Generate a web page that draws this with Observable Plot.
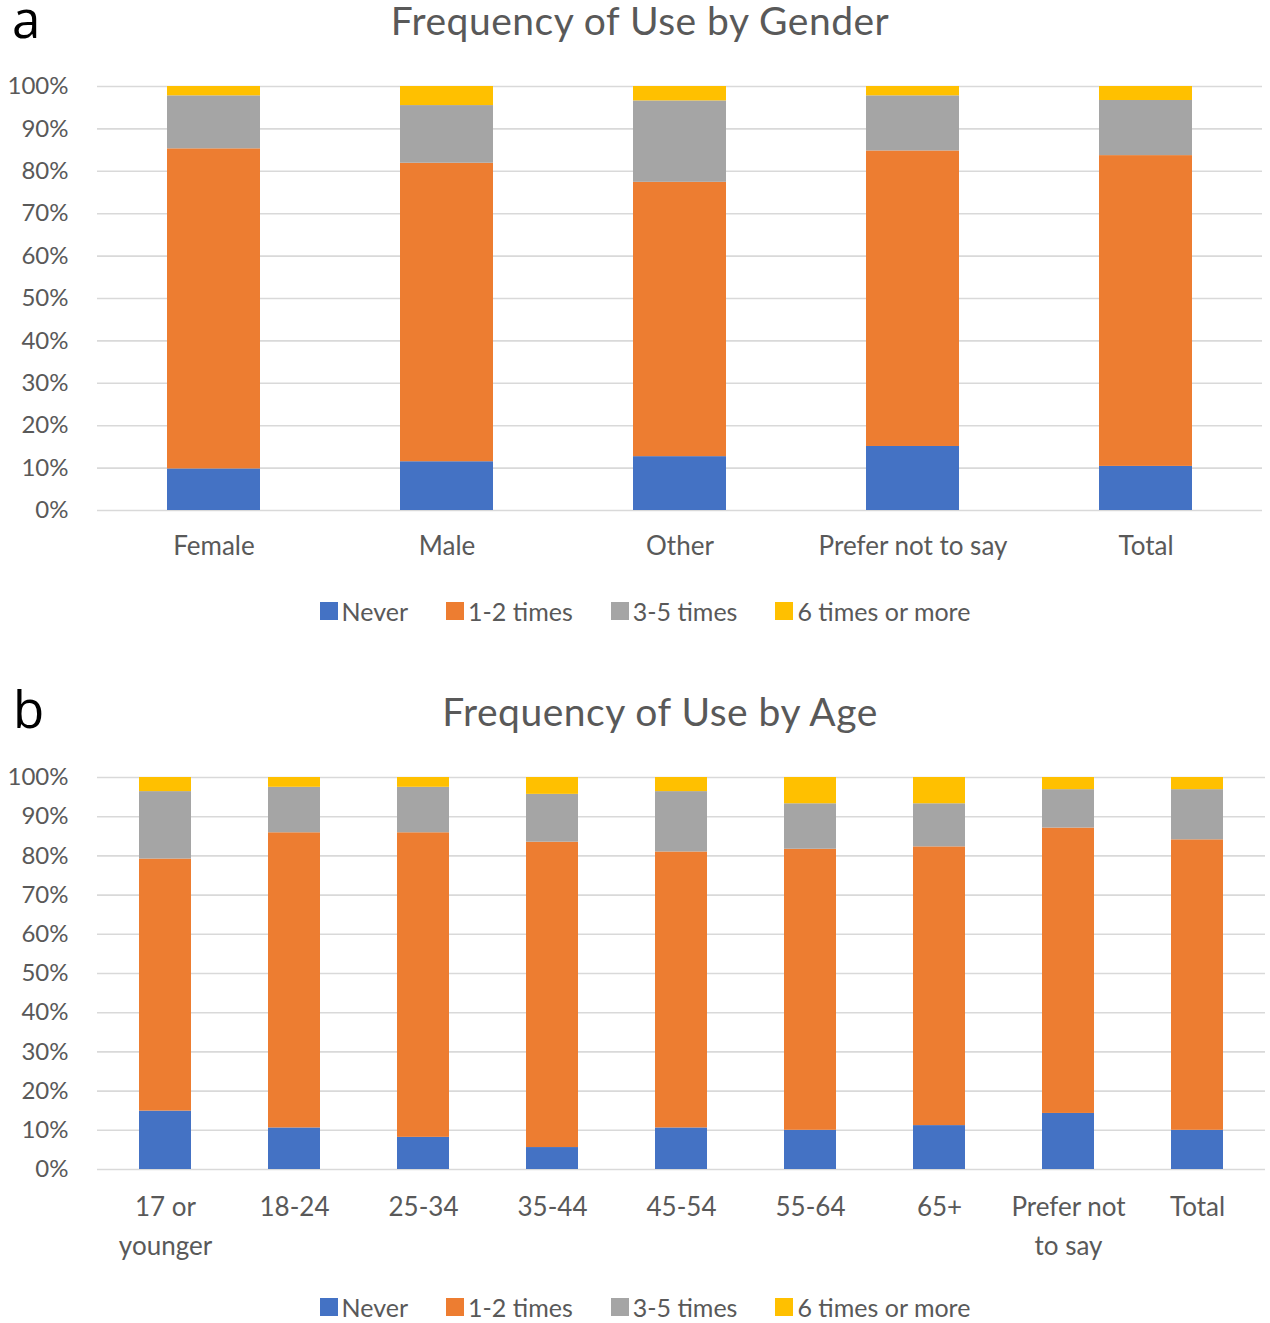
<!DOCTYPE html>
<html>
<head>
<meta charset="utf-8">
<script src="https://cdn.jsdelivr.net/npm/d3@7"></script>
<script src="https://cdn.jsdelivr.net/npm/@observablehq/plot@0.6"></script>
<style>
  html, body { margin: 0; padding: 0; background: #fff; }
  #page { position: relative; width: 1270px; height: 1323px; background: #fff; font-family: "Lato", sans-serif; overflow: hidden; }
  .abs { position: absolute; }
  .panel-label { color: #000; font-family: "Open Sans", sans-serif; font-size: 51px; line-height: 30px; height: 30px; }
  .title { color: #595959; font-size: 39px; letter-spacing: 0.5px; line-height: 30px; height: 30px; text-align: center; white-space: nowrap; }
  .legend { display: flex; justify-content: center; align-items: center; height: 30px; color: #595959; font-size: 25px; white-space: nowrap; }
  .legend .item { display: flex; align-items: center; margin: 0 19px; }
  .legend .sw { width: 18px; height: 18px; margin-right: 4px; }
</style>
</head>
<body>
<div id="page"></div>
<script>
// ---- Data ----
const series = ["Never", "1-2 times", "3-5 times", "6 times or more"];
const seriesColors = ["#4472C4", "#ED7D31", "#A5A5A5", "#FFC000"];

const genderCats = ["Female", "Male", "Other", "Prefer not to say", "Total"];
const genderNever = [9.8, 11.5, 12.7, 15.1, 10.4];
const gender12 = [75.5, 70.4, 64.7, 69.7, 73.3];
const gender35 = [12.5, 13.6, 19.2, 13.0, 13.0];
const gender6 = [2.2, 4.5, 3.4, 2.2, 3.3];

const ageCats = ["17 or younger", "18-24", "25-34", "35-44", "45-54", "55-64", "65+", "Prefer not to say", "Total"];
const ageTickLabels = ["17 or\nyounger", "18-24", "25-34", "35-44", "45-54", "55-64", "65+", "Prefer not\nto say", "Total"];
const ageNever = [14.9, 10.6, 8.2, 5.6, 10.6, 10.0, 11.2, 14.3, 10.0];
const age12 = [64.3, 75.3, 77.7, 77.9, 70.4, 71.7, 71.1, 72.8, 74.1];
const age35 = [17.2, 11.6, 11.6, 12.2, 15.4, 11.6, 11.0, 9.8, 12.8];
const age6 = [3.6, 2.5, 2.5, 4.3, 3.6, 6.7, 6.7, 3.1, 3.1];

const yTicks = [0, 10, 20, 30, 40, 50, 60, 70, 80, 90, 100];

// ---- Helpers ----
function toRows(cats, arrays) {
  const rows = [];
  arrays.forEach((arr, si) => {
    cats.forEach((c, ci) => rows.push({cat: c, series: series[si], value: arr[ci]}));
  });
  return rows;
}

const page = document.getElementById("page");
function addDiv(cls, text, css) {
  const d = document.createElement("div");
  d.className = "abs " + cls;
  if (text != null) d.textContent = text;
  Object.assign(d.style, css);
  page.appendChild(d);
  return d;
}
function addLegend(top) {
  const lg = addDiv("legend", null, {top: top + "px", left: "0px", width: "1290px"});
  series.forEach((s, i) => {
    const it = document.createElement("div");
    it.className = "item";
    const sw = document.createElement("div");
    sw.className = "sw";
    sw.style.background = seriesColors[i];
    const t = document.createElement("span");
    t.textContent = s;
    it.appendChild(sw); it.appendChild(t);
    lg.appendChild(it);
  });
}

function makeChart({cats, rows, height, marginTop, marginBottom, marginRight, tickFormat, tickPadding}) {
  return Plot.plot({
    width: 1270,
    height,
    marginLeft: 97,
    marginRight,
    marginTop,
    marginBottom,
    style: {fontFamily: "Lato, sans-serif", fontSize: "24px", color: "#595959", background: "white", overflow: "visible"},
    x: {domain: cats, paddingInner: 0.6, paddingOuter: 0.3, axis: null, label: null},
    y: {domain: [0, 100], axis: null, label: null},
    color: {domain: series, range: seriesColors},
    marks: [
      Plot.gridY(yTicks, {stroke: "#d9d9d9", strokeOpacity: 1, strokeWidth: 1.6}),
      Plot.barY(rows, {x: "cat", y: "value", fill: "series", order: series}),
      Plot.axisY(yTicks, {tickSize: 0, tickPadding: 29, tickFormat: d => d + "%", fontSize: 24, fill: "#595959", label: null}),
      Plot.axisX(cats, {tickSize: 0, tickPadding, tickFormat, fontSize: 26, lineHeight: 1.5, fill: "#595959", label: null})
    ]
  });
}

// ---- Panel a ----
addDiv("panel-label", "a", {left: "12px", top: "3px"});
addDiv("title", "Frequency of Use by Gender", {left: "0px", top: "5px", width: "1280px"});
const chartA = makeChart({
  cats: genderCats,
  rows: toRows(genderCats, [genderNever, gender12, gender35, gender6]),
  height: 520, marginTop: 26, marginBottom: 70, marginRight: 8,
  tickFormat: d => d, tickPadding: 17
});
Object.assign(chartA.style, {position: "absolute", left: "0px", top: "60px"});
page.appendChild(chartA);
addLegend(596);

// ---- Panel b ----
addDiv("panel-label", "b", {left: "13px", top: "693px"});
addDiv("title", "Frequency of Use by Age", {left: "0px", top: "696px", width: "1320px"});
const chartB = makeChart({
  cats: ageCats,
  rows: toRows(ageCats, [ageNever, age12, age35, age6]),
  height: 530, marginTop: 27, marginBottom: 111, marginRight: 5,
  tickFormat: d => ageTickLabels[ageCats.indexOf(d)], tickPadding: 19
});
Object.assign(chartB.style, {position: "absolute", left: "0px", top: "750px"});
page.appendChild(chartB);
addLegend(1292);
</script>
</body>
</html>
